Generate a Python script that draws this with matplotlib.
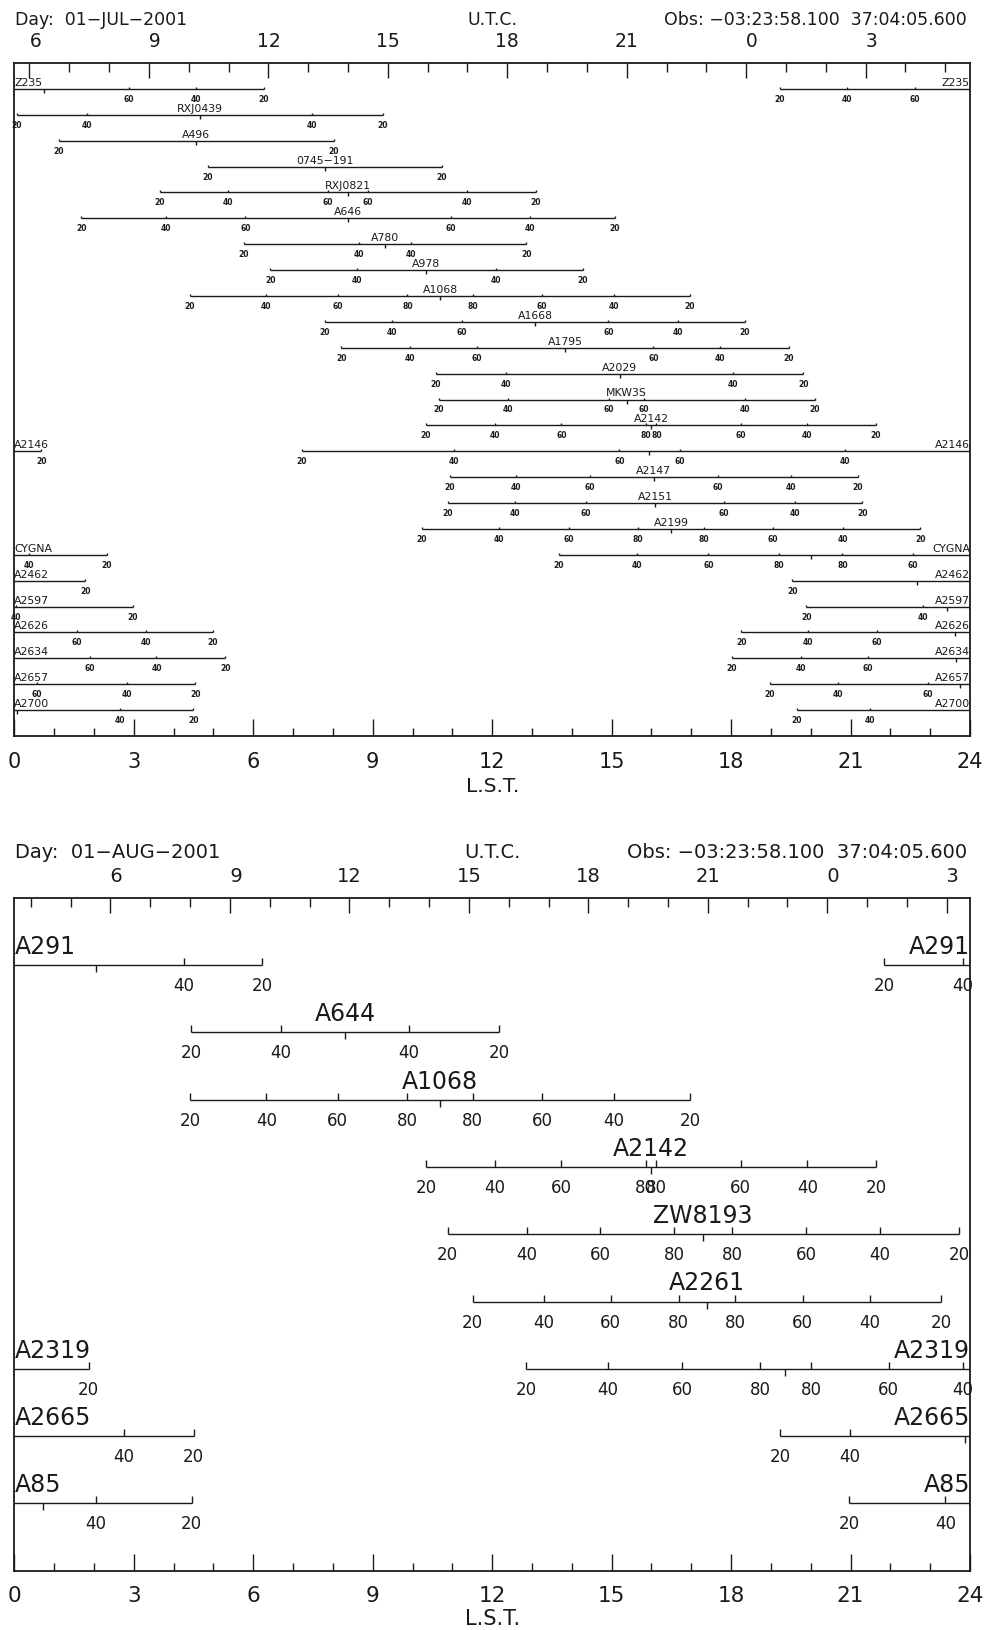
import numpy as np
import matplotlib
matplotlib.use("Agg")
from matplotlib import pyplot as plt

nan = np.nan
W, H = 988, 1631
ink = "#1a1a1a"
elev_levels = [20, 40, 60, 80]
obs_text = "Obs: \u221203:23:58.100  37:04:05.600"

# ---- 01-JUL-2001 ------------------------------------------------------
jul_day = "Day:  01\u2212JUL\u22122001"
jul_lst_at_0ut = 18.38
jul_names = ["Z235", "RXJ0439", "A496", "0745\u2212191", "RXJ0821", "A646",
             "A780", "A978", "A1068", "A1668", "A1795", "A2029", "MKW3S",
             "A2142", "A2146", "A2147", "A2151", "A2199", "CYGNA", "A2462",
             "A2597", "A2626", "A2634", "A2657", "A2700"]
# LST of transit (h)
jul_transit = [0.74, 4.655, 4.57, 7.80, 8.37, 8.38, 9.31, 10.35, 10.69, 13.075,
               13.83, 15.20, 15.375, 15.99, 15.95, 16.055, 16.09, 16.49, 20.00,
               22.66, 23.43, 23.62, 23.66, 23.76, 0.07]
# hour angle (h) at which the source crosses 20/40/60/80 deg elevation
jul_h20 = [5.52, 4.60, 3.45, 2.94, 4.72, 6.70, 3.545, 3.925, 6.28, 5.275,
           5.615, 4.615, 4.72, 5.65, 8.725, 5.12, 5.21, 6.26, 6.32,
           3.12, 3.54, 5.36, 5.64, 4.785, 4.425]
jul_h40 = [3.82, 2.83, nan, nan, 3.00, 4.565, 0.645, 1.75, 4.36, 3.60,
           3.90, 2.85, 2.98, 3.925, 4.905, 3.455, 3.52, 4.33, 4.37,
           nan, 0.62, 3.68, 3.91, 3.065, 2.585]
jul_h60 = [2.13, nan, nan, nan, 0.50, 2.575, nan, nan, 2.565, 1.845,
           2.22, nan, 0.44, 2.25, 0.755, 1.605, 1.73, 2.56, 2.57,
           nan, nan, 1.96, 2.23, 0.81, nan]
jul_h80 = [nan, nan, nan, nan, nan, nan, nan, nan, 0.82, nan,
           nan, nan, nan, 0.135, nan, nan, nan, 0.83, 0.795,
           nan, nan, nan, nan, nan, nan]

# ---- 01-AUG-2001 ------------------------------------------------------
aug_day = "Day:  01\u2212AUG\u22122001"
aug_lst_at_0ut = 20.415
aug_names = ["A291", "A644", "A1068", "A2142", "ZW8193", "A2261", "A2319",
             "A2665", "A85"]
aug_transit = [2.04, 8.305, 10.69, 15.99, 17.30, 17.39, 19.365, 23.865, 0.71]
aug_h20 = [4.19, 3.865, 6.28, 5.65, 6.42, 5.88, 6.505, 4.635, 3.74]
aug_h40 = [2.225, 1.605, 4.36, 3.925, 4.43, 4.10, 4.465, 2.89, 1.33]
aug_h60 = [nan, nan, 2.565, 2.25, 2.58, 2.41, 2.59, nan, nan]
aug_h80 = [nan, nan, 0.82, 0.135, 0.73, 0.71, 0.64, nan, nan]

small = dict(tick_up=1.8, tick_dn=3.0, lab_gap=5, lab_fs=5.5, lab_w="bold",
             name_gap=4, name_fs=7.8, lst_fs=15, lst_num_dy=31, lst_lab_dy=55,
             ut_fs=13.5, ut_dy=17, hdr_fs=12.5, hdr_dy=39)
large = dict(tick_up=4.7, tick_dn=4.7, lab_gap=11, lab_fs=12, lab_w="normal",
             name_gap=12, name_fs=17, lst_fs=15.5, lst_num_dy=30, lst_lab_dy=53,
             ut_fs=14, ut_dy=17, hdr_fs=14, hdr_dy=41)


def px_axes(fig, left, top, right, bottom):
    return fig.add_axes([left / W, 1 - bottom / H, (right - left) / W, (bottom - top) / H])


def note(ax, s, xy, coords, dx, dy, **kw):
    ax.annotate(s, xy, xycoords=coords, xytext=(dx, dy), textcoords="offset pixels",
                annotation_clip=False, color=ink, **kw)


def draw_panel(ax, names, transit, h20, h40, h60, h80, day, lst0, st):
    n = len(names)
    ax.set_xlim(0, 24)
    ax.set_ylim(n + 1, 0)
    levels = list(zip(elev_levels, [h20, h40, h60, h80]))

    for i, name in enumerate(names):
        y = i + 1
        c = transit[i]
        a, b = c - h20[i], c + h20[i]
        if a < 0:
            pieces = [(a + 24, 24), (0, b)]
        elif b > 24:
            pieces = [(a, 24), (0, b - 24)]
        else:
            pieces = [(a, b)]
        for x0, x1 in pieces:
            ax.plot([x0, x1], [y, y], color=ink, lw=1.0, solid_capstyle="butt")

        for lev, hs in levels:
            h = hs[i]
            if np.isnan(h):
                continue
            xs = [(c - h) % 24, (c + h) % 24]
            ax.plot(xs, [y, y], ls="none", marker=2, ms=st["tick_up"], mew=1.0,
                    color=ink, clip_on=False)
            for x in xs:
                note(ax, str(lev), (x, y), "data", 0, -st["lab_gap"], ha="center",
                     va="top", fontsize=st["lab_fs"], fontweight=st["lab_w"])
        # transit
        ax.plot([c % 24], [y], ls="none", marker=3, ms=st["tick_dn"], mew=1.0,
                color=ink, clip_on=False)

        if len(pieces) == 2:
            note(ax, name, (0, y), "data", 0, st["name_gap"], ha="left",
                 va="baseline", fontsize=st["name_fs"])
            note(ax, name, (24, y), "data", 0, st["name_gap"], ha="right",
                 va="baseline", fontsize=st["name_fs"])
        else:
            note(ax, name, (c, y), "data", 0, st["name_gap"], ha="center",
                 va="baseline", fontsize=st["name_fs"])

    # L.S.T. axis along the bottom
    ax.set_yticks([])
    ax.set_xticks(np.arange(0, 25, 3))
    ax.set_xticks(np.arange(0, 25, 1), minor=True)
    ax.tick_params(axis="x", which="both", direction="in", bottom=True, top=False,
                   labelbottom=False, width=1.0, color=ink)
    ax.tick_params(axis="x", which="major", length=12)
    ax.tick_params(axis="x", which="minor", length=6)
    for s in ax.spines.values():
        s.set_linewidth(1.3)
        s.set_color(ink)
    for t in range(0, 25, 3):
        note(ax, str(t), (t, 0), ("data", "axes fraction"), 0, -st["lst_num_dy"],
             ha="center", va="baseline", fontsize=st["lst_fs"])
    note(ax, "L.S.T.", (0.5, 0), "axes fraction", 0, -st["lst_lab_dy"],
         ha="center", va="baseline", fontsize=st["lst_fs"] - 0.5)

    # U.T.C. axis along the top
    top = ax.twiny()
    top.set_xlim(0, 24)
    ut = np.arange(24)
    lst = (lst0 + ut) % 24
    major = ut % 3 == 0
    top.set_xticks(lst[major])
    top.set_xticks(lst[~major], minor=True)
    top.tick_params(axis="x", which="both", direction="in", top=True, bottom=False,
                    labeltop=False, width=1.0, color=ink)
    top.tick_params(axis="x", which="major", length=11)
    top.tick_params(axis="x", which="minor", length=6.5)
    for s in top.spines.values():
        s.set_visible(False)
    for u, x in zip(ut[major], lst[major]):
        lbl = f"{u:2d}".replace(" ", "\u2007")
        note(ax, lbl, (x, 1), ("data", "axes fraction"), 0, st["ut_dy"],
             ha="center", va="baseline", fontsize=st["ut_fs"])

    note(ax, day, (0, 1), "axes fraction", 1, st["hdr_dy"], ha="left",
         va="baseline", fontsize=st["hdr_fs"])
    note(ax, "U.T.C.", (0.5, 1), "axes fraction", 0, st["hdr_dy"], ha="center",
         va="baseline", fontsize=st["hdr_fs"])
    note(ax, obs_text, (1, 1), "axes fraction", -3, st["hdr_dy"], ha="right",
         va="baseline", fontsize=st["hdr_fs"])


fig = plt.figure(figsize=(W / 100, H / 100), dpi=100)
ax1 = px_axes(fig, 14.33, 64, 970, 737)
draw_panel(ax1, jul_names, jul_transit, jul_h20, jul_h40, jul_h60, jul_h80,
           jul_day, jul_lst_at_0ut, small)
ax2 = px_axes(fig, 14.33, 898.7, 970, 1571.7)
draw_panel(ax2, aug_names, aug_transit, aug_h20, aug_h40, aug_h60, aug_h80,
           aug_day, aug_lst_at_0ut, large)

fig.savefig("out.png", dpi=100)
